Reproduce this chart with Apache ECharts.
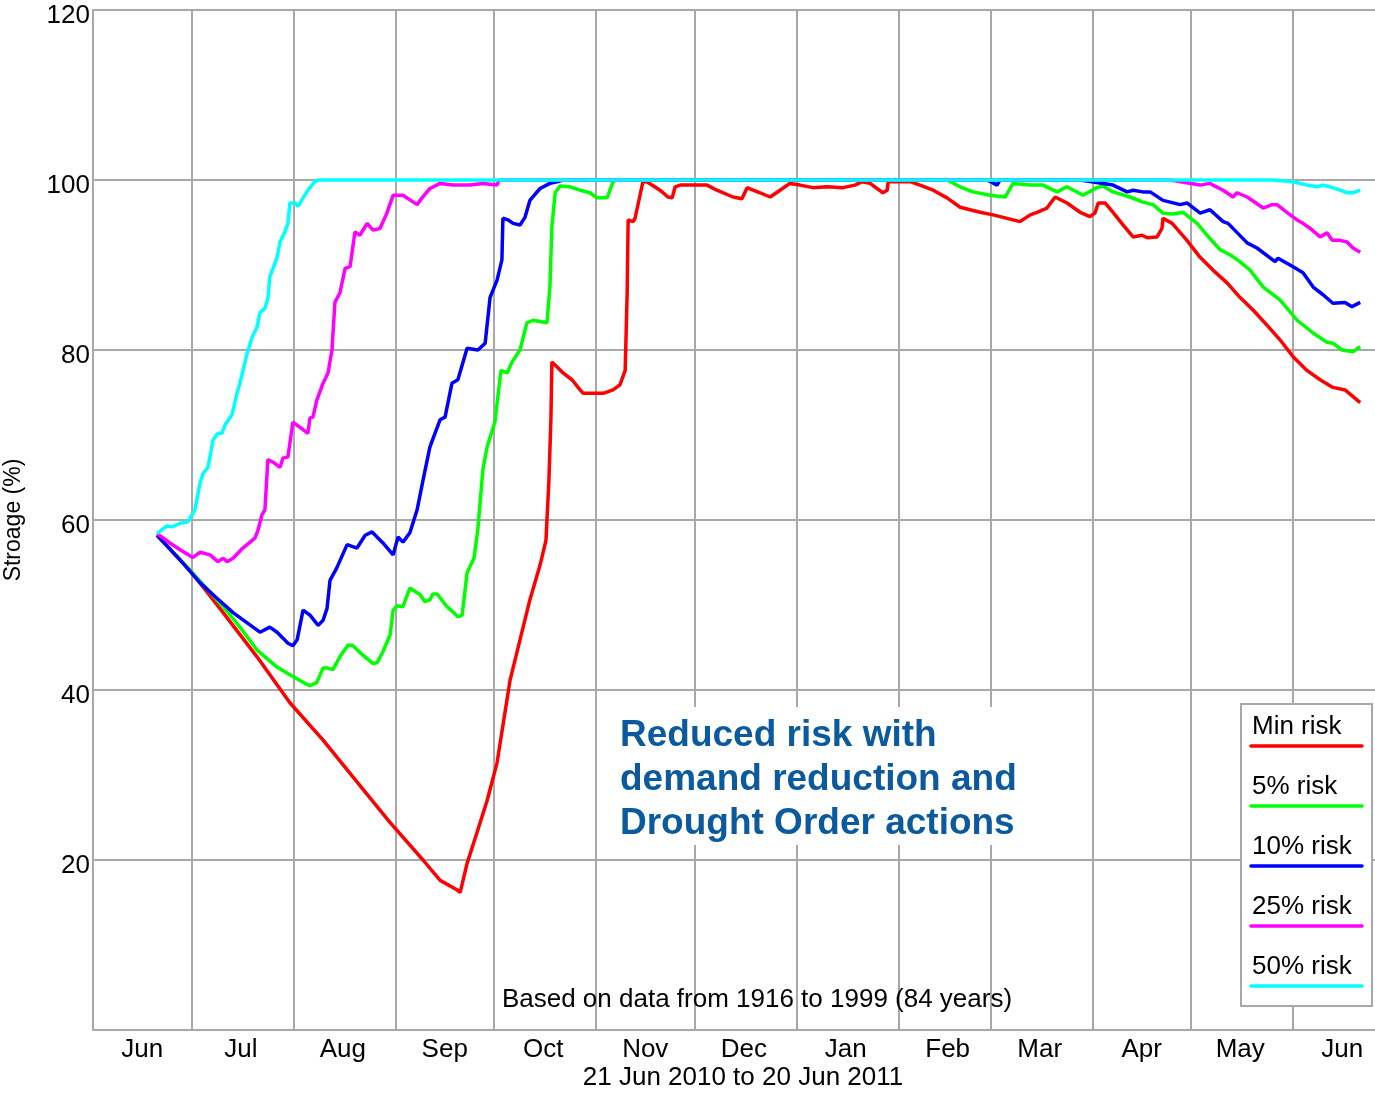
<!DOCTYPE html>
<html>
<head>
<meta charset="utf-8">
<script src="https://cdn.jsdelivr.net/npm/echarts@6/dist/echarts.min.js"></script>
<style>
  html, body { margin: 0; padding: 0; background: #fff; }
  #chart { width: 1375px; height: 1093px; }
</style>
</head>
<body>
<div id="chart"></div>
<script>
// x = days since 1 Jun 2010, y = storage %
var monthStarts = [0, 30, 61, 92, 122, 153, 183, 214, 245, 273, 304, 334, 365];
var monthLabels = ["Jun", "Jul", "Aug", "Sep", "Oct", "Nov", "Dec", "Jan", "Feb", "Mar", "Apr", "May", "Jun"];
var yTicks = [0, 20, 40, 60, 80, 100, 120];

var seriesNames = ["Min risk", "5% risk", "10% risk", "25% risk", "50% risk"];
var seriesColors = ["#ff0000", "#00ff00", "#0000ff", "#ff00ff", "#00ffff"];

var minRisk = [
  [19.5,58.2],[29.5,54.1],[39.6,49.1],[49.9,43.9],[59.9,38.5],[70.0,34.1],[80.3,29.2],[90.4,24.4],
  [100.4,20.0],[105.6,17.6],[110.7,16.5],[111.7,16.2],[113.8,19.6],[116.8,23.2],[119.9,27.0],[122.9,31.4],
  [126.9,41.2],[129.9,45.9],[132.9,50.6],[136.0,54.7],[137.8,57.6],[138.7,64.7],[139.3,71.8],[139.6,78.6],
  [141.2,78.0],[143.0,77.3],[145.7,76.5],[148.2,75.3],[149.1,74.9],[155.2,74.9],[158.2,75.3],[160.3,75.9],
  [161.9,77.6],[162.5,86.7],[162.8,95.3],[164.3,95.1],[164.9,95.5],[167.3,99.8],[168.5,99.8],[172.5,98.8],
  [174.9,98.0],[176.2,97.9],[177.1,99.2],[178.6,99.4],[182.5,99.4],[186.8,99.4],[189.8,98.8],[194.7,98.0],
  [197.4,97.8],[199.0,99.1],[200.8,98.8],[202.9,98.5],[206.0,98.0],[209.0,98.8],[212.0,99.6],[215.1,99.4],
  [219.0,99.1],[223.3,99.2],[228.2,99.1],[231.8,99.4],[234.0,99.8],[236.4,99.6],[240.3,98.5],[241.6,98.8],
  [241.9,99.8],[248.6,99.8],[251.6,99.4],[255.6,98.8],[259.8,97.9],[263.8,96.8],[266.8,96.5],[269.9,96.2],
  [273.8,95.9],[279.0,95.4],[282.0,95.1],[285.1,95.9],[287.2,96.2],[290.2,96.7],[292.7,98.0],[296.3,97.3],
  [300.3,96.2],[303.3,95.7],[304.8,96.1],[305.8,97.3],[307.9,97.3],[310.3,96.2],[313.4,94.7],[316.4,93.3],
  [319.1,93.5],[320.7,93.2],[323.7,93.3],[325.2,94.3],[325.5,95.5],[328.3,94.9],[332.8,92.9],[336.8,90.9],
  [340.7,89.4],[345.0,87.9],[348.9,86.2],[352.9,84.7],[357.2,82.9],[361.1,81.2],[365.1,79.2],[369.3,77.6],
  [373.3,76.5],[377.2,75.6],[380.9,75.3],[385.5,73.8]
];

var risk5 = [
  [19.5,58.2],[29.5,54.1],[39.6,49.8],[44.7,47.4],[49.9,44.7],[56.0,42.7],[59.9,41.8],[63.9,40.9],
  [66.0,40.5],[68.1,40.9],[70.0,42.6],[71.2,42.6],[73.0,42.4],[75.1,43.9],[77.6,45.3],[79.1,45.2],
  [82.1,44.1],[85.2,43.1],[86.4,43.2],[88.2,44.5],[90.4,46.5],[91.3,49.4],[92.5,49.9],[94.3,49.8],
  [96.4,52.0],[99.5,51.2],[101.0,50.4],[102.5,50.6],[103.4,51.3],[104.7,51.3],[107.7,49.8],[109.5,49.2],
  [111.0,48.6],[112.3,48.8],[113.8,53.8],[115.9,55.5],[117.1,59.0],[118.6,65.9],[119.9,68.6],[122.3,71.6],
  [124.1,77.6],[126.0,77.3],[127.5,78.6],[129.9,80.0],[132.0,83.2],[133.9,83.5],[138.1,83.2],[139.0,87.4],
  [139.6,94.5],[140.6,98.5],[142.1,99.3],[145.1,99.2],[148.2,98.8],[151.2,98.5],[153.3,97.9],[156.4,97.9],
  [158.2,99.8],[159.0,100],[259.8,100],[263.8,99.2],[267.7,98.6],[272.9,98.2],[277.5,98.0],[279.9,99.6],
  [285.1,99.4],[289.0,99.4],[293.3,98.6],[296.3,99.2],[301.2,98.2],[305.4,99.1],[307.3,99.3],[310.3,98.6],
  [315.5,98.0],[319.4,97.4],[322.5,97.1],[325.5,96.1],[328.6,96.0],[331.6,96.2],[335.9,94.9],[338.9,93.5],
  [342.9,91.8],[345.9,91.2],[348.9,90.4],[352.0,89.4],[356.0,87.4],[361.1,85.9],[366.3,83.5],[371.2,82.0],
  [375.4,80.9],[377.2,80.8],[380.0,80.0],[383.3,79.8],[385.5,80.4]
];

var risk10 = [
  [19.5,58.2],[27.4,54.9],[32.6,52.6],[37.7,50.8],[42.6,49.1],[46.9,47.9],[50.8,46.8],[53.8,47.4],
  [56.0,46.8],[57.8,46.1],[59.3,45.5],[60.8,45.2],[62.1,45.9],[63.9,49.4],[66.0,48.8],[68.5,47.6],
  [70.0,48.2],[71.2,49.6],[72.1,52.9],[74.2,54.4],[77.3,57.1],[80.3,56.7],[82.8,58.2],[84.9,58.6],
  [88.2,57.3],[91.3,55.9],[92.8,58.0],[94.3,57.4],[96.4,58.5],[98.6,61.2],[100.4,64.7],[102.5,68.6],
  [105.6,71.8],[107.1,72.1],[109.2,76.1],[111.0,76.5],[113.8,80.2],[117.1,80.0],[119.3,80.8],[120.8,86.2],
  [122.9,88.2],[124.4,90.6],[124.7,95.5],[126.3,95.3],[127.8,94.9],[129.9,94.7],[131.4,95.6],[132.9,97.6],
  [136.0,99.0],[139.0,99.6],[141.2,99.8],[143.0,100],[272.0,100],[273.5,99.7],[275.0,99.4],[275.9,100],
  [300.3,100],[310.3,99.4],[314.6,98.6],[316.4,98.8],[319.4,98.6],[321.6,98.6],[325.5,97.6],[327.7,97.4],
  [330.7,97.1],[332.8,97.3],[336.8,96.1],[339.8,96.5],[343.8,95.1],[345.3,94.9],[351.1,92.6],[354.1,92.0],
  [359.6,90.4],[360.5,90.8],[365.1,89.8],[368.1,89.1],[371.2,87.4],[374.2,86.5],[377.2,85.5],[380.9,85.6],
  [383.0,85.1],[385.5,85.6]
];

var risk25 = [
  [19.5,58.4],[23.4,57.3],[26.5,56.5],[30.4,55.6],[32.6,56.2],[35.6,55.9],[38.0,55.1],[39.6,55.5],
  [40.8,55.1],[42.6,55.5],[45.6,56.7],[47.8,57.4],[49.3,57.9],[50.2,58.8],[51.4,60.6],[52.3,61.2],
  [53.2,67.1],[54.8,66.8],[56.9,66.2],[57.8,67.3],[59.3,67.4],[60.8,71.5],[63.0,70.9],[65.4,70.2],
  [66.0,72.0],[66.9,72.1],[68.1,74.1],[70.0,76.1],[71.5,77.3],[72.7,80.0],[73.6,85.6],[75.1,86.7],
  [76.7,89.6],[78.2,89.8],[79.7,93.9],[81.2,93.5],[83.4,94.9],[85.2,94.1],[87.3,94.3],[89.4,96.1],
  [91.3,98.2],[94.3,98.2],[98.6,97.1],[100.1,97.9],[102.5,99.0],[105.6,99.6],[109.5,99.4],[114.7,99.4],
  [118.6,99.6],[122.9,99.4],[123.5,100],[327.7,100],[336.8,99.4],[339.8,99.6],[340.7,99.4],[343.8,98.8],
  [346.8,98.0],[348.0,98.5],[351.1,98.0],[356.0,96.7],[358.7,97.1],[360.2,97.1],[363.2,96.2],[366.3,95.3],
  [368.1,94.9],[370.3,94.3],[373.3,93.3],[375.4,93.8],[377.0,92.9],[379.4,92.9],[381.5,92.7],[383.3,92.0],
  [385.5,91.5]
];

var risk50 = [
  [19.5,58.4],[22.5,59.3],[24.0,59.2],[26.5,59.6],[28.9,59.8],[31.0,61.2],[32.6,64.4],[33.5,65.5],
  [35.0,66.2],[36.5,69.4],[38.0,70.2],[39.2,70.2],[40.2,71.2],[42.3,72.4],[43.8,74.9],[44.7,76.1],
  [46.9,79.6],[48.4,81.5],[49.9,82.7],[50.8,84.4],[52.3,84.9],[53.2,86.1],[53.8,88.6],[56.0,90.9],
  [56.9,92.7],[58.4,93.9],[59.3,94.9],[59.9,97.3],[61.5,97.3],[62.4,96.9],[63.9,97.9],[65.4,98.8],
  [67.5,99.8],[68.5,100],[359.0,100],[365.1,99.8],[369.3,99.4],[372.4,99.2],[374.2,99.4],[376.3,99.2],
  [379.4,98.8],[381.5,98.5],[383.3,98.5],[385.5,98.8]
];

var seriesData = [minRisk, risk5, risk10, risk25, risk50];

var chart = echarts.init(document.getElementById("chart"));
var font = "'Liberation Sans', Arial, sans-serif";
var gridColor = "#a8a8a8";

// legend box drawn by hand (label above line)
var legendItems = [];
legendItems.push({
  type: "rect",
  shape: { x: 1241, y: 704, width: 131, height: 302 },
  style: { fill: "#fff", stroke: gridColor, lineWidth: 2 },
  z: 10
});
seriesNames.forEach(function (name, i) {
  legendItems.push({
    type: "text",
    x: 1252, y: 727 + i * 60,
    style: { text: name, font: "26px " + font, fill: "#000", textVerticalAlign: "middle" },
    z: 11
  });
  legendItems.push({
    type: "line",
    shape: { x1: 1251, y1: 746 + i * 60, x2: 1362, y2: 746 + i * 60 },
    style: { stroke: seriesColors[i], lineWidth: 3.5, lineCap: "round" },
    z: 11
  });
});

var option = {
  animation: false,
  backgroundColor: "#fff",
  grid: { left: 93, top: 10, right: 0, bottom: 63, outerBoundsMode: "none", containLabel: false },
  xAxis: {
    type: "value",
    min: 0,
    max: 390,
    axisLine: { show: true, lineStyle: { color: gridColor, width: 2 } },
    axisTick: { show: false, customValues: monthStarts },
    splitLine: { show: true, lineStyle: { color: gridColor, width: 2 } },
    axisLabel: {
      customValues: monthStarts.map(function (d) { return d + 15; }),
      formatter: function (v) {
        return monthLabels[monthStarts.indexOf(v - 15)] || "";
      },
      fontFamily: font,
      fontSize: 26,
      color: "#000",
      margin: 7
    }
  },
  yAxis: {
    type: "value",
    min: 0,
    max: 120,
    interval: 20,
    name: "Stroage (%)",
    nameLocation: "middle",
    nameGap: 68,
    nameTextStyle: { fontFamily: font, fontSize: 23, color: "#000" },
    axisLine: { show: true, lineStyle: { color: gridColor, width: 2 } },
    axisTick: { show: false },
    splitLine: { show: true, lineStyle: { color: gridColor, width: 2 } },
    axisLabel: {
      formatter: function (v) { return v === 0 ? "" : String(v); },
      fontFamily: font,
      fontSize: 26,
      color: "#000",
      margin: 3,
      verticalAlign: "top",
      lineHeight: 12
    }
  },
  series: seriesData.map(function (d, i) {
    return {
      name: seriesNames[i],
      type: "line",
      data: d,
      showSymbol: false,
      clip: false,
      lineStyle: { color: seriesColors[i], width: 3.5 },
      itemStyle: { color: seriesColors[i] },
      z: 2 + i
    };
  }),
  graphic: [
    {
      type: "rect",
      shape: { x: 600, y: 707, width: 430, height: 138 },
      style: { fill: "#fff" },
      z: 5
    },
    {
      type: "text",
      x: 620, y: 714,
      style: {
        text: "Reduced risk with\ndemand reduction and\nDrought Order actions",
        font: "bold 37px " + font,
        fill: "#0b5a9e",
        lineHeight: 44,
        textVerticalAlign: "top"
      },
      z: 6
    },
    {
      type: "text",
      x: 757, y: 1000,
      style: {
        text: "Based on data from 1916 to 1999 (84 years)",
        font: "26px " + font,
        fill: "#000",
        textAlign: "center",
        textVerticalAlign: "middle"
      },
      z: 6
    },
    {
      type: "text",
      x: 743, y: 1078,
      style: {
        text: "21 Jun 2010 to 20 Jun 2011",
        font: "26px " + font,
        fill: "#000",
        textAlign: "center",
        textVerticalAlign: "middle"
      },
      z: 6
    }
  ].concat(legendItems)
};

chart.setOption(option);
</script>
</body>
</html>
